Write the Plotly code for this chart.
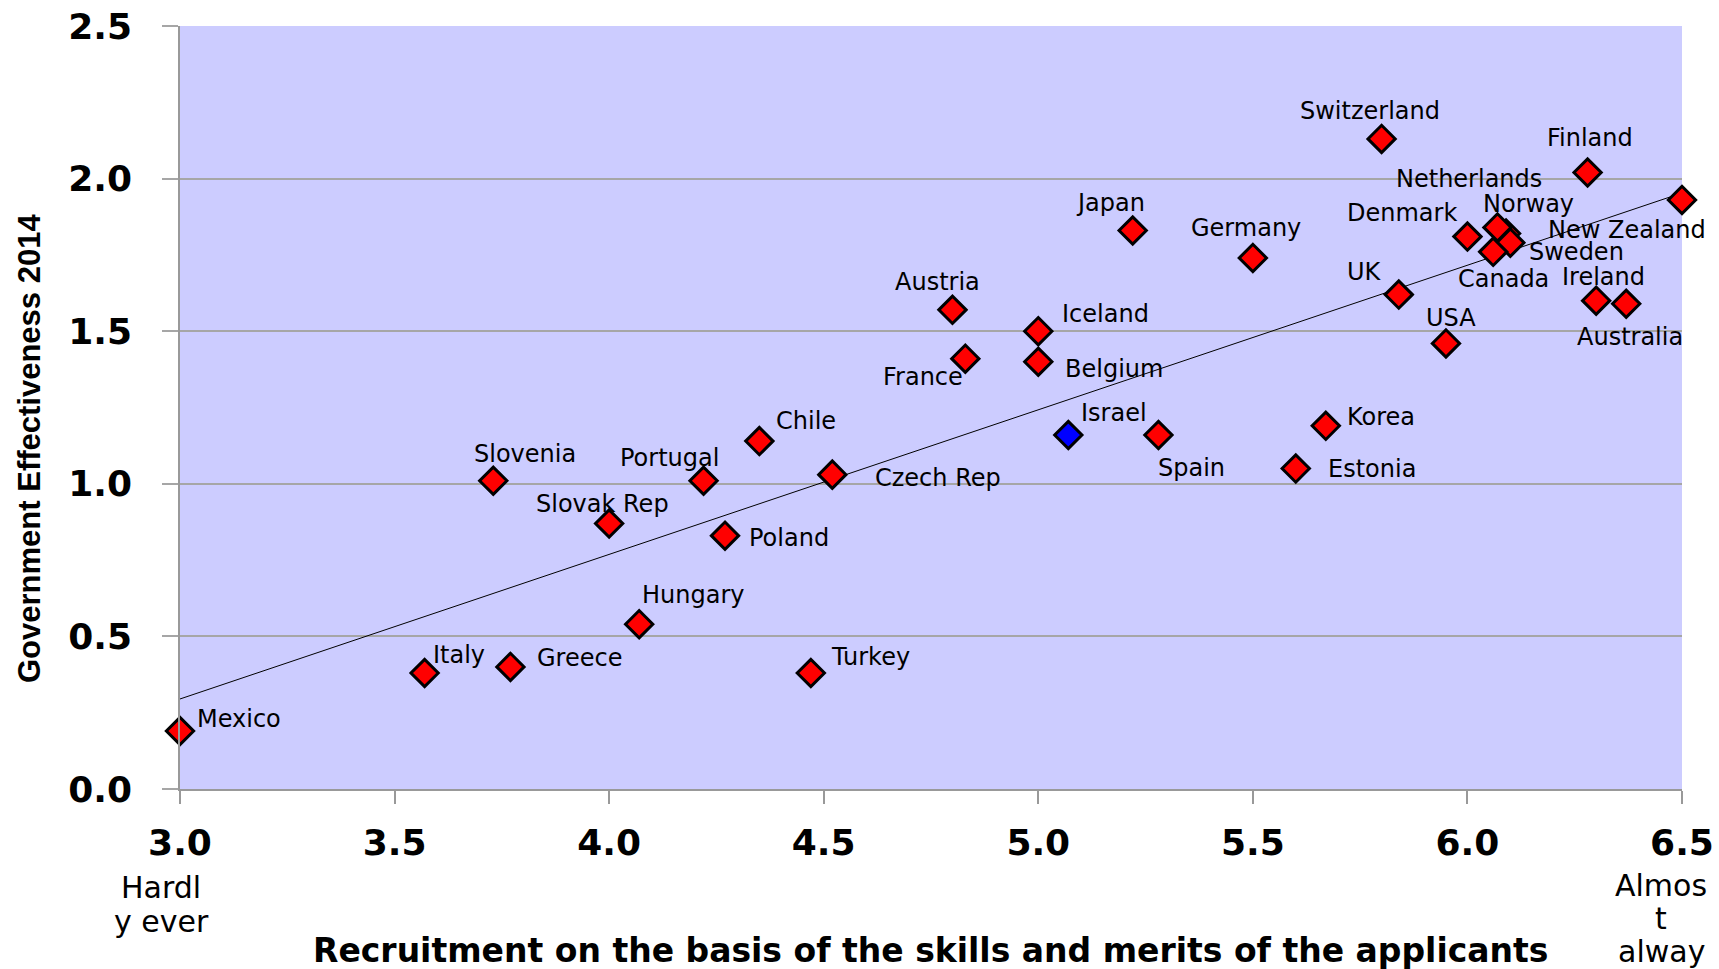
import plotly.graph_objects as go

# ---------------- data ----------------
countries = ["Mexico", "Italy", "Greece", "Slovenia", "Slovak Rep", "Hungary", "Portugal",
             "Poland", "Chile", "Turkey", "Czech Rep", "Austria", "France", "Iceland",
             "Belgium", "Israel", "Japan", "Spain", "Germany", "Estonia", "Korea",
             "Switzerland", "UK", "USA", "Denmark", "Netherlands", "Norway", "Sweden",
             "Canada", "Finland", "New Zealand", "Ireland", "Australia"]
recruitment = [3.00, 3.57, 3.77, 3.73, 4.00, 4.07, 4.22,
               4.27, 4.35, 4.47, 4.52, 4.80, 4.83, 5.00,
               5.00, 5.07, 5.22, 5.28, 5.50, 5.60, 5.67,
               5.80, 5.84, 5.95, 6.00, 6.09, 6.07, 6.10,
               6.06, 6.28, 6.50, 6.30, 6.37]
gov_effectiveness = [0.19, 0.38, 0.40, 1.01, 0.87, 0.54, 1.01,
                     0.83, 1.14, 0.38, 1.03, 1.57, 1.41, 1.50,
                     1.40, 1.16, 1.83, 1.16, 1.74, 1.05, 1.19,
                     2.13, 1.62, 1.46, 1.81, 1.82, 1.84, 1.79,
                     1.76, 2.02, 1.93, 1.60, 1.59]
highlight = "Israel"

trend_x = [3.0, 6.5]
trend_y = [0.295, 1.953]

x_ticks = [3.0, 3.5, 4.0, 4.5, 5.0, 5.5, 6.0, 6.5]
x_tick_labels = ["3.0", "3.5", "4.0", "4.5", "5.0", "5.5", "6.0", "6.5"]
y_ticks = [0.0, 0.5, 1.0, 1.5, 2.0, 2.5]
y_tick_labels = ["0.0", "0.5", "1.0", "1.5", "2.0", "2.5"]

x_title = "Recruitment on the basis of the skills and merits of the applicants"
y_title = "Government Effectiveness 2014"
low_end_lines = ["Hardl", "y ever"]
high_end_lines = ["Almos", "t", "alway"]

# ---------------- label placement (style: pixel offsets) ----------------
label_pos = {
    "Mexico": ("left", 15, -12), "Italy": ("left", 6, -18), "Greece": ("left", 25, -9),
    "Slovenia": ("center", 32, -27), "Slovak Rep": ("center", -7, -19),
    "Hungary": ("center", 54, -29), "Portugal": ("center", -34, -23),
    "Poland": ("left", 22, 2), "Chile": ("left", 15, -20), "Turkey": ("left", 18, -16),
    "Czech Rep": ("left", 41, 3), "Austria": ("center", -15, -28),
    "France": ("center", -42, 18), "Iceland": ("left", 22, -17),
    "Belgium": ("left", 25, 7), "Israel": ("left", 11, -22), "Japan": ("center", -22, -27),
    "Spain": ("center", 33, 33), "Germany": ("center", -7, -30), "Estonia": ("left", 30, 0),
    "Korea": ("left", 19, -9), "Switzerland": ("center", -12, -28), "UK": ("center", -34, -23),
    "USA": ("center", 5, -25), "Denmark": ("center", -65, -24),
    "Netherlands": ("center", -37, -55), "Norway": ("center", 31, -23),
    "Sweden": ("left", 17, 9), "Canada": ("center", 10, 27), "Finland": ("center", 2, -35),
    "New Zealand": ("center", -55, 30), "Ireland": ("center", 7, -24),
    "Australia": ("center", 4, 33),
}

W, H = 1719, 969
ML, MR, MT, MB = 180, 37, 26, 180

fig = go.Figure()

fig.add_trace(go.Scatter(
    x=trend_x, y=trend_y, mode="lines",
    line=dict(color="black", width=1), hoverinfo="skip", showlegend=False,
))

colors = ["#0000FF" if c == highlight else "#FF0000" for c in countries]
fig.add_trace(go.Scatter(
    x=recruitment, y=gov_effectiveness, mode="markers", text=countries,
    marker=dict(symbol="diamond", size=21, color=colors,
                line=dict(color="black", width=3)),
    cliponaxis=False, showlegend=False,
))

label_font = dict(family="DejaVu Sans", size=24, color="black")
annotations = []
for c, xv, yv in zip(countries, recruitment, gov_effectiveness):
    anchor, dx, dy = label_pos[c]
    annotations.append(dict(
        x=xv, y=yv, xref="x", yref="y", text=c, showarrow=False,
        xanchor=anchor, yanchor="middle", xshift=dx, yshift=-dy, font=label_font,
    ))

plot_h = H - MT - MB
plot_w = W - ML - MR

def py(pix):
    return (H - MB - pix) / plot_h

def px(pix):
    return (pix - ML) / plot_w

# axis titles
annotations.append(dict(
    x=px(930), y=py(950), xref="paper", yref="paper", text=x_title, showarrow=False,
    xanchor="center", yanchor="middle",
    font=dict(family="DejaVu Sans", size=33, color="black", weight="bold"),
))
annotations.append(dict(
    x=px(29), y=py(449), xref="paper", yref="paper", text=y_title, showarrow=False,
    textangle=-90, xanchor="center", yanchor="middle",
    font=dict(family="Liberation Sans", size=31, color="black", weight="bold"),
))

end_font = dict(family="DejaVu Sans", size=30, color="black")
for i, t in enumerate(low_end_lines):
    annotations.append(dict(
        x=x_ticks[0], y=py(887 + 34 * i), xref="x", yref="paper", text=t,
        showarrow=False, xanchor="center", yanchor="middle", xshift=-19, font=end_font,
    ))
for i, t in enumerate(high_end_lines):
    annotations.append(dict(
        x=x_ticks[-1], y=py(885 + 33 * i), xref="x", yref="paper", text=t,
        showarrow=False, xanchor="center", yanchor="middle", xshift=-21, font=end_font,
    ))

fig.update_layout(
    width=W, height=H, autosize=False,
    margin=dict(l=ML, r=MR, t=MT, b=MB, pad=0, autoexpand=False),
    paper_bgcolor="white", plot_bgcolor="#CCCCFF",
    annotations=annotations,
    xaxis=dict(
        range=[3.0, 6.5], tickmode="array", tickvals=x_ticks, ticktext=x_tick_labels,
        showgrid=False, zeroline=False, showline=True, linecolor="#999999", linewidth=1.5,
        ticks="outside", ticklen=13, tickcolor="#999999", tickwidth=1.5,
        ticklabelstandoff=8, ticklabeloverflow="allow", automargin=False,
        tickfont=dict(family="DejaVu Sans", size=36, color="black", weight="bold"),
    ),
    yaxis=dict(
        range=[0.0, 2.5], tickmode="array", tickvals=y_ticks, ticktext=y_tick_labels,
        showgrid=True, gridcolor="#A6A6A6", gridwidth=1.5, zeroline=False,
        showline=True, linecolor="#999999", linewidth=1.5,
        ticks="outside", ticklen=16, tickcolor="#A6A6A6", tickwidth=1.5,
        ticklabelstandoff=23, ticklabeloverflow="allow", automargin=False,
        tickfont=dict(family="DejaVu Sans", size=36, color="black", weight="bold"),
    ),
)

fig.write_html(
    "out.html",
    config={"displayModeBar": False},
    post_script="document.body.style.margin='0';document.body.style.overflow='hidden';",
)
